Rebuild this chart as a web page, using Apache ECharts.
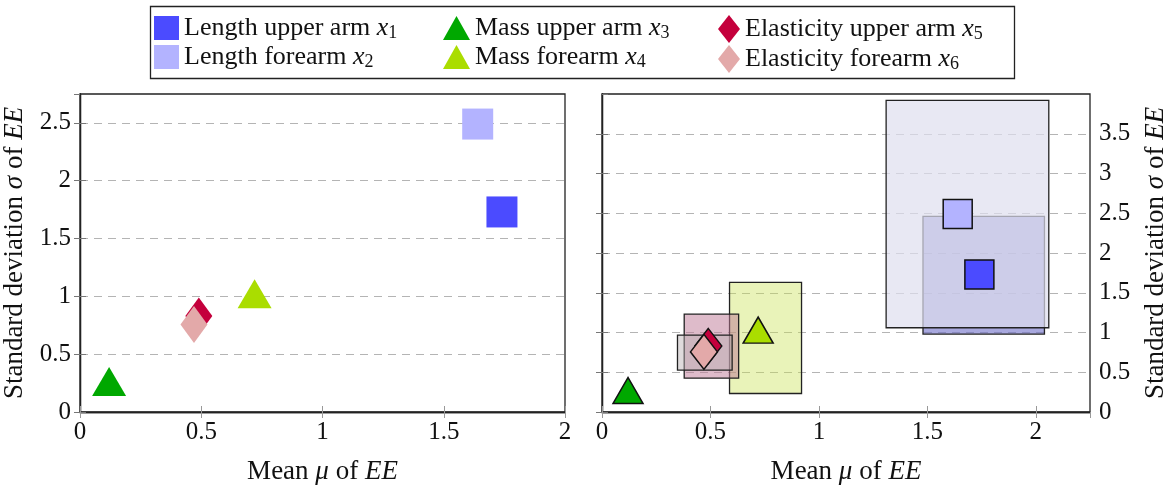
<!DOCTYPE html>
<html>
<head>
<meta charset="utf-8">
<script src="https://cdn.jsdelivr.net/npm/echarts@6/dist/echarts.min.js"></script>
<style>
    html, body {margin: 0; padding: 0; background: #fff;}
    #chart {width: 1170px; height: 490px;}
</style>
</head>
<body>
<div id="chart"></div>
<script>
// factors x1..x6
var factors = ['Length upper arm', 'Length forearm', 'Mass upper arm', 'Mass forearm', 'Elasticity upper arm', 'Elasticity forearm'];
var subIndex = ['1', '2', '3', '4', '5', '6'];
var meanMu = [1.74, 1.64, 0.12, 0.72, 0.49, 0.47];
var sigmaEE = [1.73, 2.49, 0.22, 0.98, 0.83, 0.756];
var colors = ['#4b4bff', '#b3b3ff', '#00a800', '#aadd00', '#c4003c', '#e3a9a9'];
var symbols = ['rect', 'rect', 'triangle', 'triangle', 'diamond', 'diamond'];

// ranges of the right plot, per factor: mu [min, max], sigma [min, max]
var boxFactor = [0, 1, 3, 4, 5];
var boxMu = [[1.48, 2.04], [1.31, 2.06], [0.588, 0.92], [0.379, 0.63], [0.348, 0.60]];
var boxSigma = [[0.98, 2.46], [1.06, 3.92], [0.233, 1.63], [0.425, 1.23], [0.527, 0.968]];
var boxFill = ['rgba(110,110,200,0.6)', 'rgba(222,222,238,0.7)', 'rgba(200,225,80,0.4)', 'rgba(190,120,150,0.5)', 'rgba(185,175,178,0.45)'];

var font = 'Liberation Serif';
var rich = {
    r: {fontFamily: font, fontSize: 26, color: '#111', lineHeight: 28},
    i: {fontFamily: font, fontSize: 26, color: '#111', fontStyle: 'italic', lineHeight: 28},
    s: {fontFamily: font, fontSize: 18, color: '#111', verticalAlign: 'bottom', lineHeight: 14}
};

function legendText(name) {
    var k = factors.indexOf(name);
    return '{r|' + name + ' }{i|x}{s|' + subIndex[k] + '}';
}

var dom = document.getElementById('chart'),
    myChart = echarts.init(dom);

var grids = [
    {left: 79, top: 94, width: 486, height: 327, show: true, borderColor: '#222', borderWidth: 1.3},
    {left: 602, top: 94, width: 489, height: 327, show: true, borderColor: '#222', borderWidth: 1.3}
];

var axisFont = {fontFamily: font, fontSize: 25, color: '#111'};
var nameRich = {
    r: {fontFamily: font, fontSize: 27, color: '#111'},
    i: {fontFamily: font, fontSize: 27, color: '#111', fontStyle: 'italic'}
};

function xAx(gi, max, pos, labels) {
    return {
        type: 'value', gridIndex: gi, min: 0, max: max, interval: 0.5, position: pos,
        name: labels ? '{r|Mean }{i|μ}{r| of }{i|EE}' : '',
        nameLocation: 'middle', nameGap: 46,
        nameTextStyle: {rich: nameRich},
        axisLine: {lineStyle: {color: '#222', width: 1.3}},
        axisTick: {show: true, inside: true, length: 6, lineStyle: {color: '#999'}},
        axisLabel: {show: labels, margin: 8, showMaxLabel: max === 2, showMinLabel: true, textStyle: axisFont},
        splitLine: {show: false}
    };
}

function yAx(gi, max, pos, labels, grid) {
    return {
        type: 'value', gridIndex: gi, min: 0, max: max, interval: 0.5, position: pos,
        name: labels ? '{r|Standard deviation }{i|σ}{r| of }{i|EE}' : '',
        nameLocation: 'middle', nameGap: 52, nameRotate: 90,
        nameTextStyle: {rich: nameRich},
        axisLine: {lineStyle: {color: '#222', width: 1.3}},
        axisTick: {show: true, inside: true, length: 6, lineStyle: {color: '#777'}},
        axisLabel: {show: labels, margin: 9, showMaxLabel: false, textStyle: axisFont},
        splitLine: {show: grid, showMinLine: false, showMaxLine: false, lineStyle: {color: '#b4b4b4', type: [8, 6], width: 1.2}}
    };
}

var series = [];
// left plot: plain marks
for (var k = 0; k < factors.length; k++) {
    var tri = symbols[k] === 'triangle';
    series.push({
        name: factors[k], type: 'scatter', xAxisIndex: 0, yAxisIndex: 0, z: 3,
        symbol: symbols[k],
        symbolSize: symbols[k] === 'rect' ? 31 : (tri ? [34, 29] : [27, 37]),
        symbolOffset: tri ? [0, -5] : [0, 0],
        itemStyle: {color: colors[k], opacity: 1},
        data: [[meanMu[k], sigmaEE[k]]]
    });
}
// right plot: ranges first, marks on top
var boxData = boxFactor.map(function (f, i) {
    return [boxMu[i][0], boxMu[i][1], boxSigma[i][0], boxSigma[i][1], i];
});
series.push({
    type: 'custom', xAxisIndex: 2, yAxisIndex: 2, z: 1,
    encode: {x: [0, 1], y: [2, 3]},
    renderItem: function (params, api) {
        var p0 = api.coord([api.value(0), api.value(3)]);
        var p1 = api.coord([api.value(1), api.value(2)]);
        return {
            type: 'rect',
            shape: {x: p0[0], y: p0[1], width: p1[0] - p0[0], height: p1[1] - p0[1]},
            style: {fill: boxFill[api.value(4)], stroke: '#222', lineWidth: 1.3}
        };
    },
    data: boxData
});
for (var k = 0; k < factors.length; k++) {
    var tri = symbols[k] === 'triangle';
    series.push({
        name: factors[k], type: 'scatter', xAxisIndex: 2, yAxisIndex: 2, z: 3,
        symbol: symbols[k],
        symbolSize: symbols[k] === 'rect' ? 29 : (tri ? [30, 26] : [27, 35]),
        symbolOffset: tri ? [0, -4] : [0, 0],
        itemStyle: {color: colors[k], borderColor: '#111', borderWidth: 1.5, opacity: 1},
        data: [[meanMu[k], sigmaEE[k]]]
    });
}

var legendLeft = [149, 438, 713];
var legendIcon = [[25, 24], [27, 24], [22, 28]];

var option = {
    animation: false,
    grid: grids,
    xAxis: [xAx(0, 2, 'bottom', true), xAx(0, 2, 'top', false), xAx(1, 2.25, 'bottom', true), xAx(1, 2.25, 'top', false)],
    yAxis: [yAx(0, 2.75, 'left', true, true), yAx(0, 2.75, 'right', false, false), yAx(1, 4, 'right', true, true), yAx(1, 4, 'left', false, false)],
    legend: [0, 1, 2].map(function (c) {
        return {
            orient: 'vertical', left: legendLeft[c], top: 10, itemGap: 2,
            itemWidth: legendIcon[c][0], itemHeight: legendIcon[c][1],
            selectedMode: false,
            data: [factors[2 * c], factors[2 * c + 1]],
            formatter: legendText,
            textStyle: {rich: rich}
        };
    }),
    graphic: [{
        type: 'rect', left: 148, top: 4, silent: true,
        shape: {width: 864, height: 72},
        style: {fill: 'none', stroke: '#222', lineWidth: 1.3}
    }],
    series: series
};
myChart.setOption(option);
</script>
</body>
</html>
